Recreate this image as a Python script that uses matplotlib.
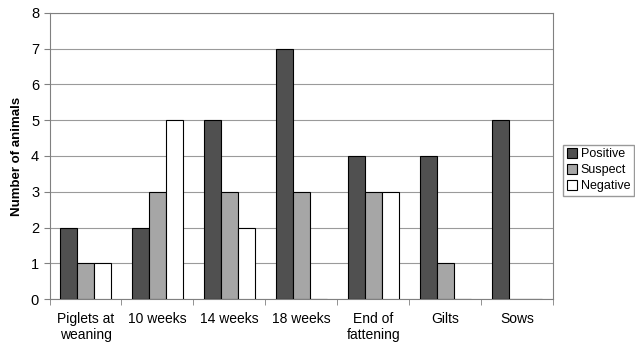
import matplotlib.pyplot as plt
import numpy as np

plt.rcParams['font.family'] = ['Liberation Sans', 'DejaVu Sans']

categories = ["Piglets at\nweaning", "10 weeks", "14 weeks", "18 weeks",
              "End of\nfattening", "Gilts", "Sows"]
positive = [2, 2, 5, 7, 4, 4, 5]
suspect = [1, 3, 3, 3, 3, 1, 0]
negative = [1, 5, 2, 0, 3, 0, 0]

fig = plt.figure(figsize=(6.35, 3.45), dpi=100)
ax = fig.add_axes([0.078, 0.133, 0.793, 0.83])

x = np.arange(len(categories))
w = 0.235
ax.bar(x - w, positive, w, color='#505050', edgecolor='black', linewidth=0.8, label='Positive', zorder=3)
ax.bar(x, suspect, w, color='#a6a6a6', edgecolor='black', linewidth=0.8, label='Suspect', zorder=3)
ax.bar(x + w, negative, w, color='white', edgecolor='black', linewidth=0.8, label='Negative', zorder=3)

ax.set_xlim(-0.5, len(categories) - 0.5)
ax.set_ylim(0, 8)
ax.set_yticks(range(0, 9))
ax.yaxis.grid(True, color='#9a9a9a', linewidth=0.8, zorder=0)
ax.set_xticks(x)
ax.set_xticklabels(categories, fontsize=10)
ax.tick_params(axis='x', length=0, pad=9)
ax.set_xticks(np.arange(-0.5, len(categories)), minor=True)
ax.tick_params(axis='x', which='minor', length=4, color='#808080')
ax.tick_params(axis='y', labelsize=10.5, length=4, color='#808080')
for s in ax.spines.values():
    s.set_color('#808080')
ax.set_ylabel("Number of animals", fontsize=9.5, fontweight='bold', labelpad=6)

ax.legend(loc='center left', bbox_to_anchor=(1.02, 0.45), fontsize=9, frameon=True,
          fancybox=False, edgecolor='#808080', handlelength=0.8, handleheight=0.8,
          handletextpad=0.3, borderpad=0.3, labelspacing=0.3, borderaxespad=0)

fig.savefig("out.png", dpi=100)
